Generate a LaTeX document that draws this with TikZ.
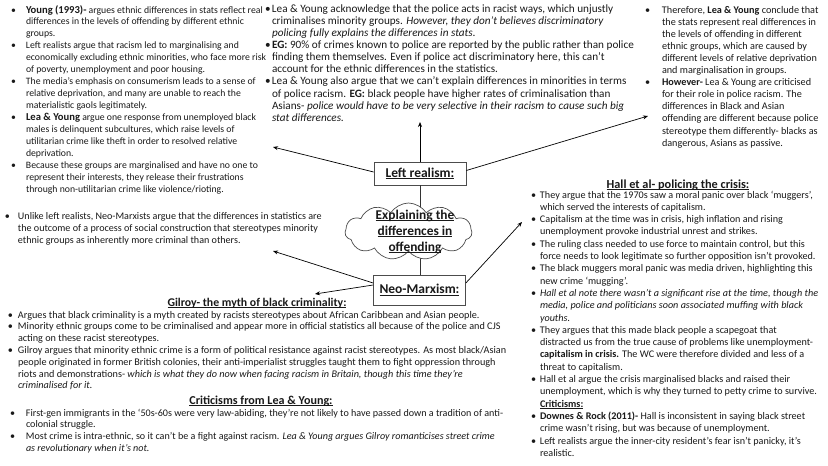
\documentclass[tikz,border=0pt]{standalone}
\usepackage{fontspec}
\setmainfont{Carlito}
\usetikzlibrary{arrows.meta,shapes.symbols}
\newlength{\bind}
\newsavebox{\ulbox}
\newcommand{\ul}[1]{\sbox{\ulbox}{#1}\rlap{\rule[-0.12em]{\wd\ulbox}{0.07em}}\usebox{\ulbox}}
\newcommand{\bu}{\makebox[\bind][l]{•}}
\newcommand{\ct}{\hspace*{\bind}}
\newcommand{\bigb}[1]{{\fontsize{10.6pt}{12pt}\selectfont\bfseries #1}}
\newcommand{\blk}[4]{\fontsize{#1pt}{#2pt}\selectfont\setlength{\bind}{#3pt}\begin{minipage}[t]{560pt}#4\end{minipage}}
\begin{document}
\begin{tikzpicture}[x=1pt,y=-1pt,
  txt/.style={anchor=base west, inner sep=0pt, outer sep=0pt, text=black!90},
  hd/.style={anchor=base, inner sep=0pt, text=black!90, font=\bfseries\fontsize{12pt}{14pt}\selectfont},
  topic/.style={draw=black!70, line width=0.7pt, fill=white, minimum width=92pt, inner sep=0pt, text=black!90, font=\bfseries\fontsize{13.5pt}{16pt}\selectfont},
  conn/.style={line width=0.7pt, draw=black!80},
  arr/.style={line width=0.7pt, draw=black, -{Stealth[length=5pt,width=4pt]}}]
\useasboundingbox (0,0) rectangle (828,466);

% ---------- text blocks ----------
\node[txt] (blkA) at (11,13) {\blk{9.74}{11.95}{15}{%
\bu\bigb{Young (1993)-} argues ethnic differences in stats reflect real\\
\ct differences in the levels of offending by different ethnic\\
\ct groups.\\
\bu Left realists argue that racism led to marginalising and\\
\ct economically excluding ethnic minorities, who face more risk\\
\ct of poverty, unemployment and poor housing.\\
\bu The media’s emphasis on consumerism leads to a sense of\\
\ct relative deprivation, and many are unable to reach the\\
\ct materialistic gaols legitimately.\\
\bu\bigb{Lea \& Young} argue one response from unemployed black\\
\ct males is delinquent subcultures, which raise levels of\\
\ct utilitarian crime like theft in order to resolved relative\\
\ct deprivation.\\
\bu Because these groups are marginalised and have no one to\\
\ct represent their interests, they release their frustrations\\
\ct through non-utilitarian crime like violence/rioting.}};

\node[txt] (blkB) at (5,219.7) {\blk{10.1}{11.67}{13}{%
\bu Unlike left realists, Neo-Marxists argue that the differences in statistics are\\
\ct the outcome of a process of social construction that stereotypes minority\\
\ct ethnic groups as inherently more criminal than others.}};

\node[txt] (blkC) at (265,12.3) {\blk{11.2}{12.1}{7}{%
\bu Lea \& Young acknowledge that the police acts in racist ways, which unjustly\\
\ct criminalises minority groups. \textit{However, they don’t believes discriminatory}\\
\ct \textit{policing fully explains the differences in stats.}\\
\bu\textbf{EG:} 90\% of crimes known to police are reported by the public rather than police\\
\ct finding them themselves. Even if police act discriminatory here, this can’t\\
\ct account for the ethnic differences in the statistics.\\
\bu Lea \& Young also argue that we can’t explain differences in minorities in terms\\
\ct of police racism. \textbf{EG:} black people have higher rates of criminalisation than\\
\ct Asians- \textit{police would have to be very selective in their racism to cause such big}\\
\ct \textit{stat differences.}}};

\node[txt] (blkD) at (645,13) {\blk{10.2}{12.1}{17}{%
\bu Therefore, \textbf{Lea \& Young} conclude that\\
\ct the stats represent real differences in\\
\ct the levels of offending in different\\
\ct ethnic groups, which are caused by\\
\ct different levels of relative deprivation\\
\ct and marginalisation in groups.\\
\bu\textbf{However-} Lea \& Young are criticised\\
\ct for their role in police racism. The\\
\ct differences in Black and Asian\\
\ct offending are different because police\\
\ct stereotype them differently- blacks as\\
\ct dangerous, Asians as passive.}};

\node[hd, font=\bfseries\fontsize{12.3pt}{14pt}\selectfont] (hdE) at (678,188.5) {\ul{Hall et al- policing the crisis:}};
\node[txt] (blkE) at (531,198) {\blk{10.16}{12.3}{9}{%
\bu They argue that the 1970s saw a moral panic over black ‘muggers’,\\
\ct which served the interests of capitalism.\\
\bu Capitalism at the time was in crisis, high inflation and rising\\
\ct unemployment provoke industrial unrest and strikes.\\
\bu The ruling class needed to use force to maintain control, but this\\
\ct force needs to look legitimate so further opposition isn’t provoked.\\
\bu The black muggers moral panic was media driven, highlighting this\\
\ct new crime ‘mugging’.\\
\bu\textit{Hall et al note there wasn’t a significant rise at the time, though the}\\
\ct \textit{media, police and politicians soon associated muffing with black}\\
\ct \textit{youths.}\\
\bu They argues that this made black people a scapegoat that\\
\ct distracted us from the true cause of problems like unemployment-\\
\ct \textbf{capitalism in crisis.} The WC were therefore divided and less of a\\
\ct threat to capitalism.\\
\bu Hall et al argue the crisis marginalised blacks and raised their\\
\ct unemployment, which is why they turned to petty crime to survive.\\
\ct \textbf{\ul{Criticisms:}}\\
\bu\textbf{Downes \& Rock (2011)-} Hall is inconsistent in saying black street\\
\ct crime wasn’t rising, but was because of unemployment.\\
\bu Left realists argue the inner-city resident’s fear isn’t panicky, it’s\\
\ct realistic.}};

\node[hd, font=\bfseries\fontsize{11.8pt}{14pt}\selectfont] (hdF) at (257,306.5) {\ul{Gilroy- the myth of black criminality:}};
\node[txt] (blkF) at (8,318) {\blk{10.2}{11.83}{10}{%
\bu Argues that black criminality is a myth created by racists stereotypes about African Caribbean and Asian people.\\
\bu Minority ethnic groups come to be criminalised and appear more in official statistics all because of the police and CJS\\
\ct acting on these racist stereotypes.\\
\bu Gilroy argues that minority ethnic crime is a form of political resistance against racist stereotypes. As most black/Asian\\
\ct people originated in former British colonies, their anti-imperialist struggles taught them to fight oppression through\\
\ct riots and demonstrations- \textit{which is what they do now when facing racism in Britain, though this time they’re}\\
\ct \textit{criminalised for it.}}};

\node[hd, font=\bfseries\fontsize{12.1pt}{14pt}\selectfont] (hdG) at (261,404) {\ul{Criticisms from Lea \& Young:}};
\node[txt] (blkG) at (10,416.3) {\blk{10.1}{11.67}{16}{%
\bu First-gen immigrants in the ‘50s-60s were very law-abiding, they’re not likely to have passed down a tradition of anti-\\
\ct colonial struggle.\\
\bu Most crime is intra-ethnic, so it can’t be a fight against racism. \textit{Lea \& Young argues Gilroy romanticises street crime}\\
\ct \textit{as revolutionary when it’s not.}}};

% ---------- central diagram ----------
\node[topic, minimum height=23pt] (lr) at (420,173.5) {\ul{Left realism:}};
\node[topic, minimum height=30pt] (nm) at (419.5,290) {\raisebox{-3pt}{\ul{Neo-Marxism:}}};
\coordinate (cc) at (420,231.5);
\draw[conn] (lr.south) -- (cc);
\draw[conn] (cc) -- (nm.north -| cc);
\node[cloud, draw=black!70, line width=0.7pt, fill=white, cloud puffs=11, cloud puff arc=115, aspect=2.2, minimum width=127pt, minimum height=57pt, inner sep=0pt] (cl) at (408.5,231.5) {};
\node[align=center, inner sep=0pt, text=black!90, font=\bfseries\fontsize{13.4pt}{16pt}\selectfont] (clt) at (415,232) {\ul{Explaining the}\\\ul{differences in}\\\ul{offending}};

\coordinate (a1) at (420,122);
\coordinate (a2) at (273,147);
\coordinate (a3) at (648,116);
\coordinate (a4) at (273,251);
\coordinate (a5) at (315,294);
\coordinate (a6) at (522,222);
\draw[arr] (lr.north) -- (a1);
\draw[arr] ([yshift=1.5pt]lr.west) -- (a2);
\draw[arr] ([yshift=3pt]lr.east) -- (a3);
\draw[arr] ([yshift=7pt]nm.west) -- (a4);
\draw[arr] ([yshift=5pt]nm.west) -- (a5);
\draw[arr] ([yshift=7pt]nm.east) -- (a6);
\end{tikzpicture}
\end{document}
